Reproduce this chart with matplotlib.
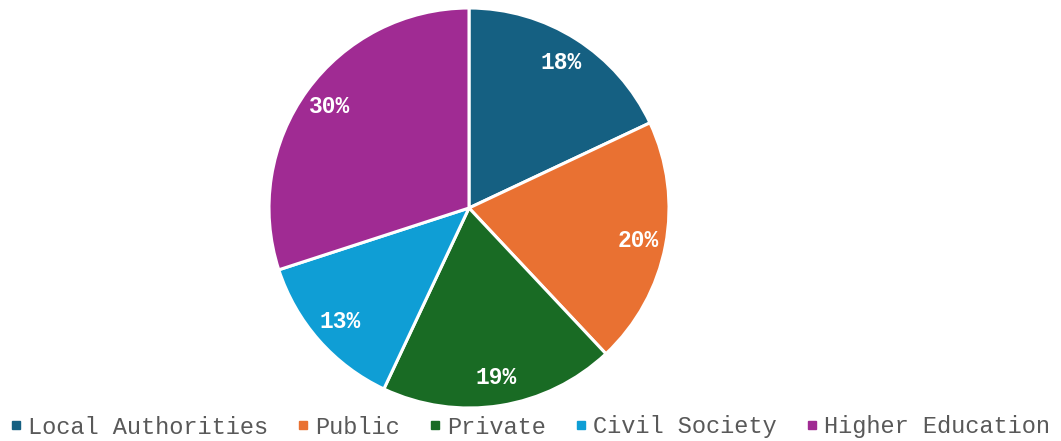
import matplotlib.pyplot as plt
from matplotlib.lines import Line2D

# data
categories = ['Local Authorities', 'Public', 'Private', 'Civil Society', 'Higher Education']
shares = [18, 20, 19, 13, 30]
colors = ['#156082', '#E97132', '#196B24', '#0F9ED5', '#A02B93']

plt.rcParams['font.family'] = ['Liberation Mono', 'DejaVu Sans']

fig = plt.figure(figsize=(10.61, 4.41), dpi=100)
# pie centred at about (469, 208) px, radius 200 px
ax = fig.add_axes([269 / 1061, 33 / 441, 400 / 1061, 400 / 441])

wedges, texts, autotexts = ax.pie(
    shares, colors=colors, startangle=90, counterclock=False,
    autopct='%1.0f%%', pctdistance=0.86,
    wedgeprops=dict(edgecolor='white', linewidth=2.2),
    textprops=dict(color='white', fontsize=16.5, fontweight='bold'))
ax.set_xlim(-1, 1)
ax.set_ylim(-1, 1)
ax.set_aspect('equal')

# small square markers for the legend
handles = [Line2D([], [], marker='s', linestyle='', color=c, markersize=6) for c in colors]
leg = fig.legend(handles, categories, loc='center', bbox_to_anchor=(0.5, 14 / 441),
                 ncol=5, frameon=False, fontsize=17, handlelength=0.4,
                 handletextpad=0.3, columnspacing=1.3, borderpad=0)
for t in leg.get_texts():
    t.set_color('#595959')

fig.savefig('out.png', dpi=100)
